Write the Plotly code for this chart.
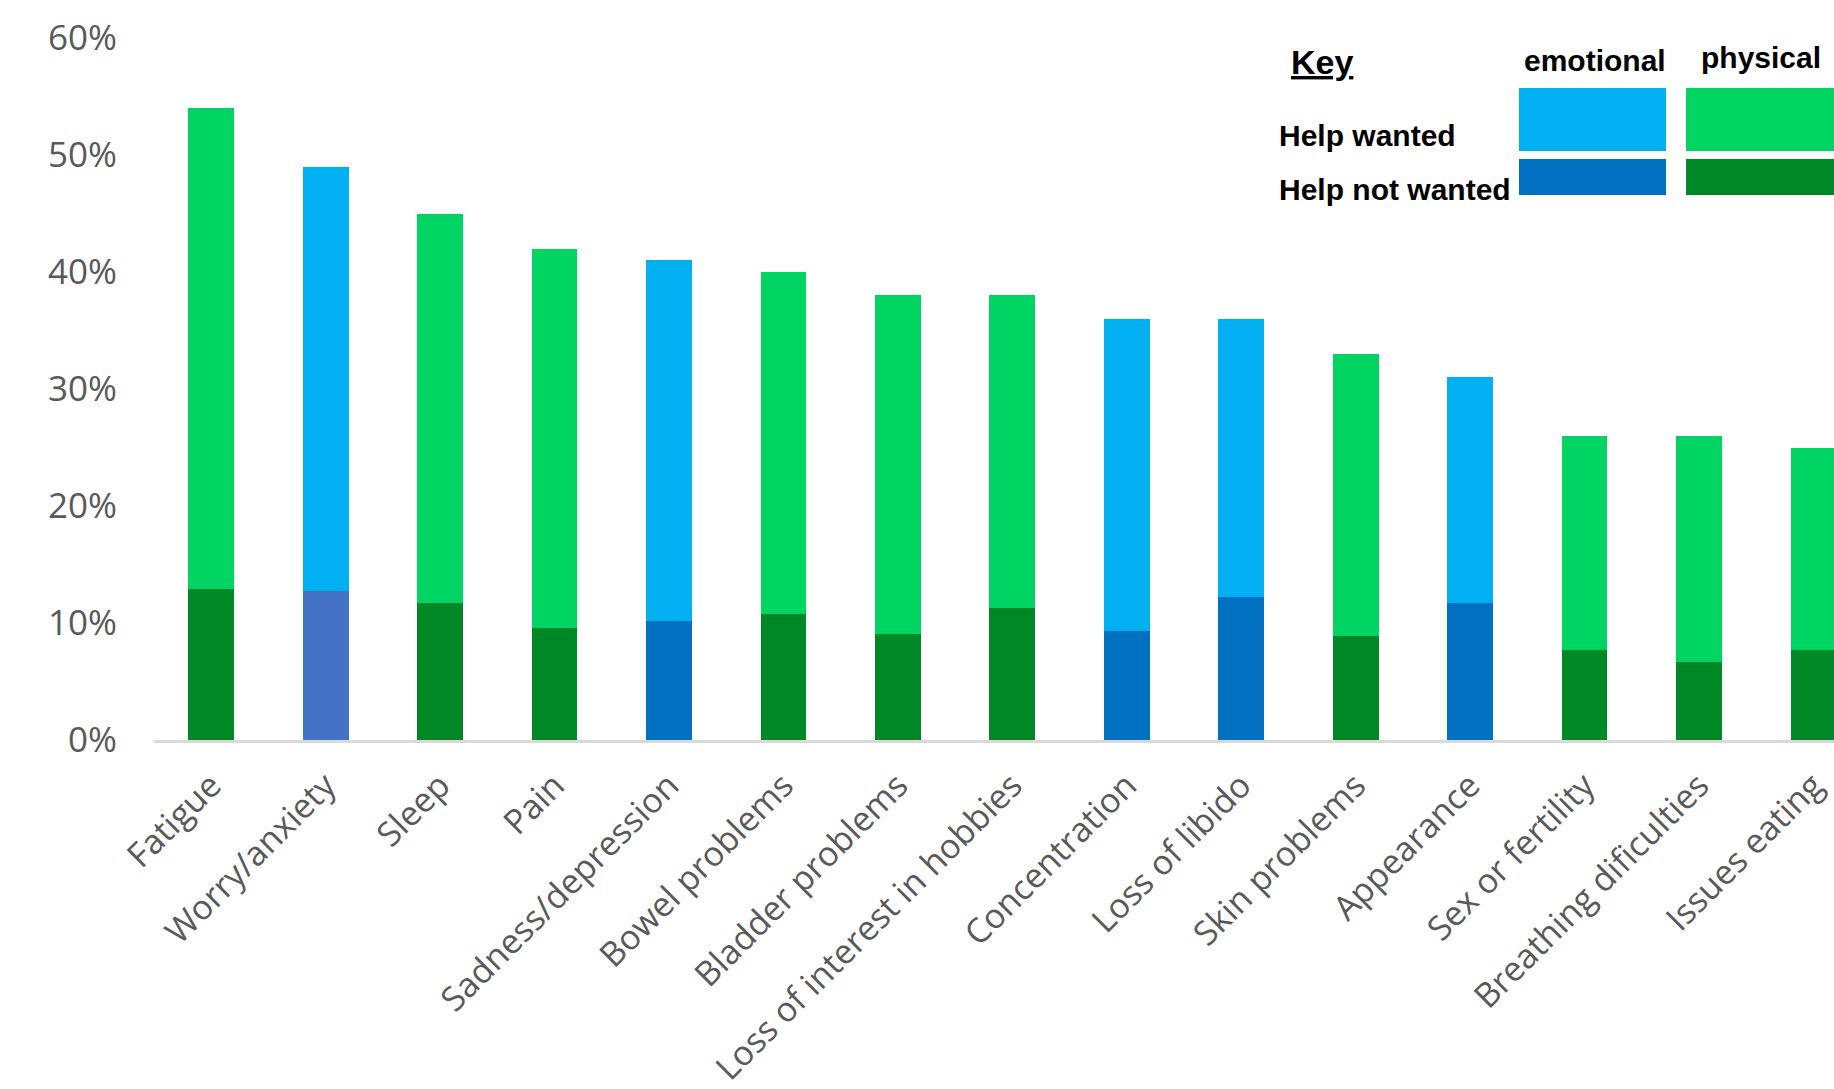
import plotly.graph_objects as go

# Survey results: share of respondents reporting each concern
categories = [
    "Fatigue", "Worry/anxiety", "Sleep", "Pain", "Sadness/depression",
    "Bowel problems", "Bladder problems", "Loss of interest in hobbies",
    "Concentration", "Loss of libido", "Skin problems", "Appearance",
    "Sex or fertility", "Breathing dificulties", "Issues eating",
]
concern_type = [
    "physical", "emotional", "physical", "physical", "emotional",
    "physical", "physical", "physical", "emotional", "emotional",
    "physical", "emotional", "physical", "physical", "physical",
]
total_pct = [54, 49, 45, 42, 41, 40, 38, 38, 36, 36, 33, 31, 26, 26, 25]
help_not_wanted_pct = [12.9, 12.7, 11.7, 9.6, 10.2, 10.8, 9.1, 11.3, 9.3, 12.2,
                       8.9, 11.7, 7.7, 6.7, 7.7]
help_wanted_pct = [round(t - n, 1) for t, n in zip(total_pct, help_not_wanted_pct)]
y_ticks = [0, 10, 20, 30, 40, 50, 60]

# Palette
WANTED = {"emotional": "#00B0F0", "physical": "#00D563"}
NOT_WANTED = {"emotional": "#0070C0", "physical": "#008726"}
NOT_WANTED_OVERRIDE = {"Worry/anxiety": "#4472C4"}

not_wanted_colors = [NOT_WANTED_OVERRIDE.get(c, NOT_WANTED[t])
                     for c, t in zip(categories, concern_type)]
wanted_colors = [WANTED[t] for t in concern_type]

W, H = 1834, 1089
M_L, M_R, M_T, M_B = 154, 0, 38, 349
PLOT_W = W - M_L - M_R
PLOT_H = H - M_T - M_B


def px_x(px):
    return (px - M_L) / PLOT_W


def px_y(py):
    return (H - M_B - py) / PLOT_H


fig = go.Figure()
fig.add_trace(go.Bar(
    x=categories, y=help_not_wanted_pct, name="Help not wanted",
    marker=dict(color=not_wanted_colors, line=dict(width=0)), width=0.4,
))
fig.add_trace(go.Bar(
    x=categories, y=help_wanted_pct, name="Help wanted",
    marker=dict(color=wanted_colors, line=dict(width=0)), width=0.4,
))

x_tick_font = dict(family="Open Sans", size=34, color="#595959")
y_tick_font = dict(family="Open Sans", size=35, color="#595959")

fig.update_layout(
    width=W, height=H,
    barmode="stack",
    showlegend=False,
    plot_bgcolor="white",
    paper_bgcolor="white",
    margin=dict(l=M_L, r=M_R, t=M_T, b=M_B, pad=0, autoexpand=False),
    xaxis=dict(
        range=[-0.5, 14.18],
        tickangle=-45,
        tickfont=x_tick_font,
        showgrid=False,
        showline=True, linecolor="#D9D9D9", linewidth=3,
        ticks="",
        ticklabelstandoff=9,
        automargin=False,
        fixedrange=True,
    ),
    yaxis=dict(
        range=[0, 60],
        tickvals=y_ticks,
        ticktext=[f"{v}%" for v in y_ticks],
        tickfont=y_tick_font,
        showgrid=False,
        zeroline=False,
        showline=False,
        ticks="",
        ticklabelstandoff=36,
        automargin=False,
        fixedrange=True,
    ),
)

# Key drawn at the top right
key_font = dict(family="Liberation Sans", color="#000000", size=30)
boxes = [
    (1519, 1666, 88, 151, WANTED["emotional"]),
    (1519, 1666, 159, 195, NOT_WANTED["emotional"]),
    (1686, 1834, 88, 151, WANTED["physical"]),
    (1686, 1834, 159, 195, NOT_WANTED["physical"]),
]
for x0, x1, y0, y1, col in boxes:
    fig.add_shape(type="rect", xref="paper", yref="paper",
                  x0=px_x(x0), x1=px_x(x1), y0=px_y(y1), y1=px_y(y0),
                  fillcolor=col, line=dict(width=0), layer="above")

labels = [
    ("<b><u>Key</u></b>", 1289, 62, "left", 34),
    ("<b>emotional</b>", 1595, 61, "center", 30),
    ("<b>physical</b>", 1761, 57, "center", 30),
    ("<b>Help wanted</b>", 1277, 135, "left", 30),
    ("<b>Help not wanted</b>", 1277, 189, "left", 30),
]
for text, x, y, anchor, size in labels:
    fig.add_annotation(text=text, xref="paper", yref="paper",
                       x=px_x(x), y=px_y(y), xanchor=anchor, yanchor="middle",
                       showarrow=False, font=dict(key_font, size=size))

fig.write_html("out.html")
